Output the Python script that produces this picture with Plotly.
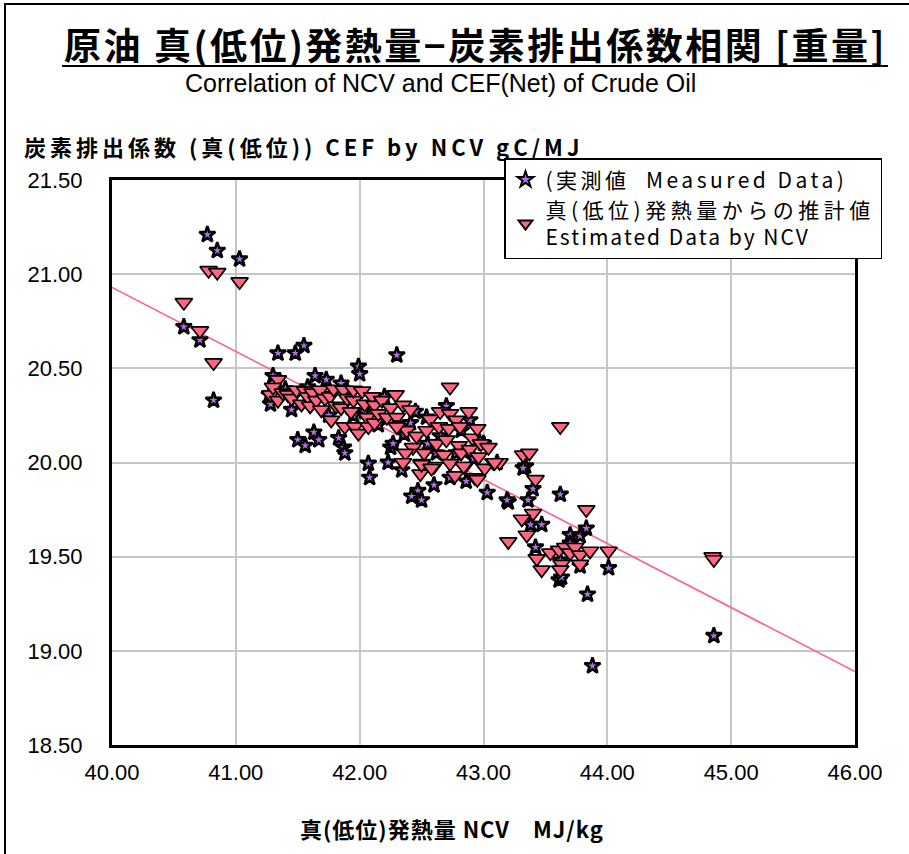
import plotly.graph_objects as go

# ---- data: net calorific value (MJ/kg) vs carbon emission factor (gC/MJ) ----
measured_ncv = [
    40.77, 40.85, 41.03, 40.58, 40.71, 40.82,
    41.34, 41.30, 41.27, 41.28, 41.48, 41.55, 41.64, 41.73, 41.85, 41.99, 42.00, 42.30,
    41.50, 41.56, 41.63, 41.67, 41.83, 41.87, 41.88, 42.07, 42.08, 42.23, 42.25, 42.04,
    42.27, 42.41, 42.54, 42.65, 42.82, 42.89, 42.95, 43.11, 42.34, 42.47, 42.42, 42.50,
    42.60, 42.73, 42.86, 43.03, 43.20, 43.34,
    41.40, 41.58, 41.70, 41.90, 41.95, 42.10, 42.15, 42.20, 42.45, 42.62, 42.70, 42.78,
    42.92, 43.00, 42.36, 41.45, 41.75, 42.55,
    43.32, 43.40, 43.19, 43.62, 43.36, 43.38, 43.47, 43.70, 43.78, 43.83, 43.70, 43.42,
    43.61, 43.63, 43.78, 44.01, 43.84, 43.62, 44.86, 43.88,
]
measured_cef = [
    21.21, 21.125, 21.08, 20.72, 20.65, 20.33,
    20.58, 20.46, 20.36, 20.31, 20.58, 20.62, 20.46, 20.44, 20.42, 20.51, 20.47, 20.57,
    20.12, 20.09, 20.16, 20.12, 20.13, 20.08, 20.05, 19.995, 19.92, 20.00, 20.08, 20.27,
    20.10, 20.21, 20.24, 20.14, 20.17, 20.225, 20.12, 20.00, 19.96, 19.85, 19.82, 19.80,
    19.88, 19.92, 19.90, 19.84, 19.79, 19.98,
    20.39, 20.40, 20.36, 20.38, 20.25, 20.30, 20.20, 20.35, 20.27, 20.05, 20.30, 20.05,
    20.02, 20.10, 20.15, 20.28, 20.25, 20.10,
    19.97, 19.86, 19.80, 19.83, 19.80, 19.67, 19.67, 19.615, 19.61, 19.65, 19.57, 19.55,
    19.375, 19.39, 19.45, 19.44, 19.30, 19.48, 19.08, 18.92,
]

estimated_ncv = [
    40.58, 40.71, 40.78, 40.85, 40.82, 41.03,
    41.34, 41.28, 41.30, 41.34, 41.38, 41.42, 41.45, 41.49, 41.53, 41.56, 41.58, 41.60,
    41.62, 41.65, 41.68, 41.69, 41.72, 41.76, 41.77, 41.79, 41.81, 41.85, 41.87, 41.88,
    41.90, 41.93, 41.95, 41.95, 41.96, 41.99, 42.02, 42.04, 42.06, 42.07, 42.10, 42.12,
    42.12, 42.15, 42.18, 42.22, 42.25, 42.29, 42.30, 42.33, 42.35, 42.38, 42.41, 42.43,
    42.37, 42.46, 42.49, 42.50, 42.52, 42.54, 42.57, 42.60, 42.62, 42.64, 42.65, 42.68,
    42.70, 42.72, 42.73, 42.73, 42.73, 42.77, 42.78, 42.80, 42.81, 42.82, 42.85, 42.88,
    42.89, 42.91, 42.93, 42.95, 42.96, 42.98, 43.01, 43.04, 43.08, 43.13,
    42.35, 42.50, 42.58, 42.84, 42.95, 43.09, 42.30,
    43.32, 43.37, 43.42, 43.62, 43.40, 43.31, 43.35, 43.20, 43.83, 43.54, 43.43, 43.47,
    43.61, 43.66, 43.70, 43.74, 43.78, 43.86, 43.63, 43.62, 43.78, 44.01, 44.85, 44.86,
]
estimated_cef = [
    20.85, 20.70, 21.02, 21.01, 20.53, 20.96,
    20.44, 20.36, 20.40, 20.33, 20.37, 20.36, 20.34, 20.385, 20.31, 20.38, 20.35, 20.30,
    20.37, 20.33, 20.385, 20.28, 20.34, 20.35, 20.225, 20.39, 20.30, 20.29, 20.385, 20.19,
    20.34, 20.27, 20.33, 20.385, 20.19, 20.155, 20.38, 20.31, 20.24, 20.19, 20.35, 20.305,
    20.21, 20.26, 20.33, 20.24, 20.29, 20.36, 20.24, 20.20, 20.305, 20.17, 20.28, 20.08,
    20.05, 20.14, 19.94, 19.995, 20.05, 20.17, 20.23, 19.98, 20.10, 20.19, 20.27, 20.04,
    20.12, 20.18, 20.40, 20.26, 19.995, 19.93, 20.225, 20.09, 20.19, 20.05, 19.98, 20.27,
    20.07, 20.13, 19.92, 20.18, 20.03, 20.10, 19.97, 20.08, 20.00, 20.00,
    20.00, 19.99, 19.97, 19.98, 19.91, 20.00, 20.19,
    20.04, 20.05, 19.91, 20.19, 19.73, 19.70, 19.615, 19.58, 19.75, 19.52, 19.49, 19.43,
    19.535, 19.55, 19.52, 19.55, 19.51, 19.53, 19.46, 19.43, 19.46, 19.53, 19.50, 19.485,
]

# regression of the estimate on NCV, drawn across the full axis range
trend_ncv = [40.0, 46.0]
trend_cef = [20.93, 18.89]

x_ticks = [40, 41, 42, 43, 44, 45, 46]
y_ticks = [18.5, 19.0, 19.5, 20.0, 20.5, 21.0, 21.5]

# ---- page geometry (pixels) ----
W, H = 909, 854
L, R, T, B = 112, 855, 180, 745


def px(x):
    return (x - L) / (R - L)


def py(y):
    return (B - y) / (B - T)


TICK_FONT = dict(family="Liberation Sans, Arial, sans-serif", size=22, color="black")
JP = "Noto Sans CJK JP, sans-serif"


def spaced(text, gap):
    return f"<span style='letter-spacing:{gap}px'>{text}</span>"


fig = go.Figure()

fig.add_trace(go.Scatter(
    x=trend_ncv, y=trend_cef, mode="lines",
    line=dict(color="#ff5f8c", width=1.6),
    showlegend=False, hoverinfo="skip",
))

fig.add_trace(go.Scatter(
    x=measured_ncv, y=measured_cef, mode="markers",
    name=spaced("(実測値  Measured Data)", 3.5),
    marker=dict(symbol="star", size=12, color="#b070e6",
                line=dict(color="black", width=2.6)),
))

fig.add_trace(go.Scatter(
    x=estimated_ncv, y=estimated_cef, mode="markers",
    name=spaced("真(低位)発熱量からの推計値", 4.5) + "<br>" + spaced("Estimated Data by NCV", 2),
    marker=dict(symbol="triangle-down", size=15, color="#ff6680",
                line=dict(color="black", width=1.7)),
))

fig.update_xaxes(
    range=[40, 46], tickvals=x_ticks,
    ticktext=[f"{v:.2f}" for v in x_ticks],
    showgrid=True, gridcolor="#c6c6c6", gridwidth=2,
    showline=True, linecolor="black", linewidth=3, mirror=True,
    ticks="outside", ticklen=6, tickcolor="rgba(0,0,0,0)",
    tickfont=TICK_FONT, zeroline=False,
)
fig.update_yaxes(
    range=[18.5, 21.5], tickvals=y_ticks,
    ticktext=[f"{v:.2f}" for v in y_ticks],
    showgrid=True, gridcolor="#c6c6c6", gridwidth=2,
    showline=True, linecolor="black", linewidth=3, mirror=True,
    ticks="outside", ticklen=22, tickcolor="rgba(0,0,0,0)",
    tickfont=TICK_FONT, zeroline=False,
)

annotations = [
    dict(x=px(475), y=py(44),
         text="<b>" + spaced("原油 真(低位)発熱量−炭素排出係数相関 [重量]", 2.5) + "</b>",
         font=dict(family=JP, size=37, color="black")),
    dict(x=px(440), y=py(83),
         text="Correlation of NCV and CEF(Net) of Crude Oil",
         font=dict(family="Liberation Sans, Arial, sans-serif", size=25, color="black")),
    dict(x=px(22), y=py(146), xanchor="left",
         text="<b>" + spaced("炭素排出係数 (真(低位)) CEF by NCV gC/MJ", 4) + "</b>",
         font=dict(family=JP, size=22, color="black")),
    dict(x=px(452), y=py(828),
         text="<b>" + spaced("真(低位)発熱量 NCV　MJ/kg", 1) + "</b>",
         font=dict(family=JP, size=22, color="black")),
]
for a in annotations:
    a.setdefault("xanchor", "center")
    a.update(xref="paper", yref="paper", yanchor="middle", showarrow=False)

shapes = [
    # title underline
    dict(type="line", xref="paper", yref="paper",
         x0=px(62), x1=px(888), y0=py(66), y1=py(66),
         line=dict(color="black", width=2)),
    # outer frame of the chart sheet (right and bottom edges run off the page)
    dict(type="rect", xref="paper", yref="paper",
         x0=px(5), x1=px(915), y0=py(4), y1=py(870),
         line=dict(color="black", width=2)),
]

fig.update_layout(
    width=W, height=H,
    margin=dict(l=L, r=W - R, t=T, b=H - B),
    paper_bgcolor="white", plot_bgcolor="white",
    annotations=annotations, shapes=shapes,
    legend=dict(
        x=px(504), y=py(158), xanchor="left", yanchor="top",
        bgcolor="white", bordercolor="black", borderwidth=1.5,
        font=dict(family=JP, size=21, color="black"),
        itemsizing="constant", tracegroupgap=0,
    ),
    hovermode=False,
)

fig.write_html("out.html")
